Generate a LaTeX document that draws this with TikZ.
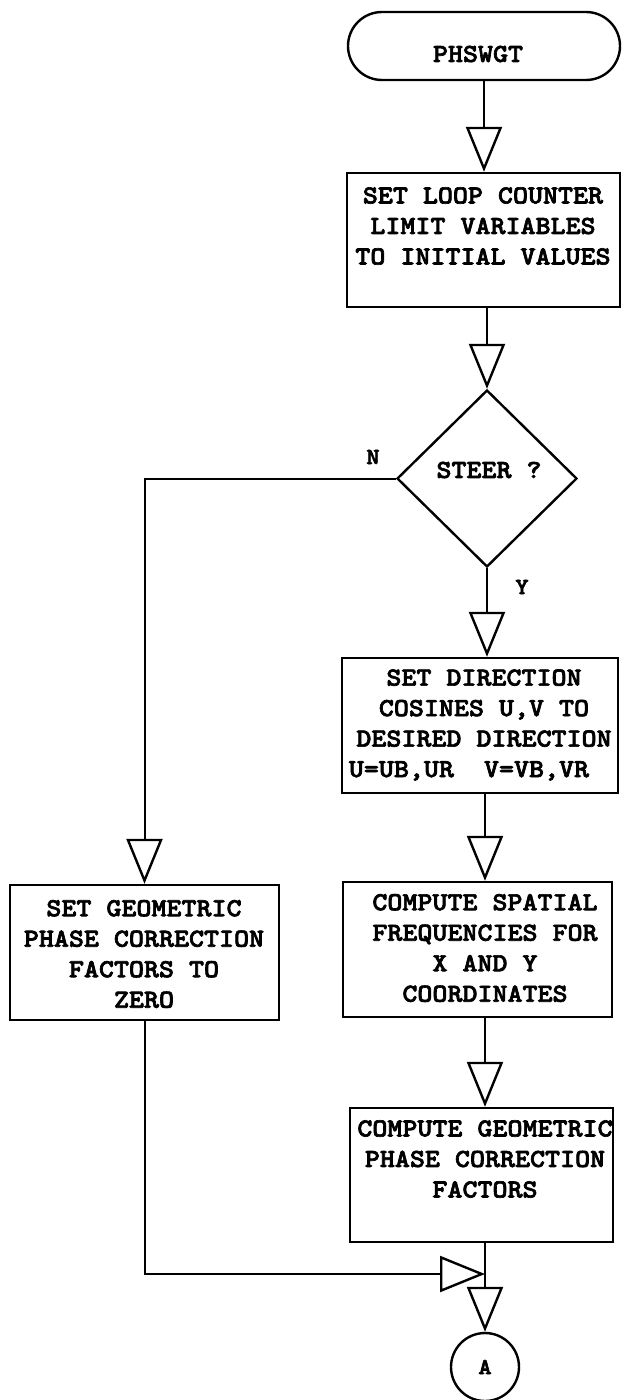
\documentclass[tikz,border=0pt]{standalone}
\usepackage{fontspec}
\newfontfamily\typew{lmmonolt10-bold}[Extension=.otf, FakeStretch=1.1, FakeBold=2.5]
\usetikzlibrary{arrows.meta,shapes.geometric,shapes.misc}
\begin{document}
\begin{tikzpicture}[x=1pt,y=-1pt,
  box/.style={draw, line width=2.4pt, rectangle, inner sep=0pt},
  txt/.style={font=\typew\fontsize{26}{30.5}\selectfont, align=center, inner sep=0pt},
  flow/.style={line width=2pt, -{Triangle[open, length=45pt, width=36pt, line width=2.4pt]}},
  lbl/.style={font=\typew\fontsize{23}{26}\selectfont, inner sep=0pt}]
\fill[white] (0,0) rectangle (631,1400);
\useasboundingbox (0,0) rectangle (631,1400);

% nodes
\node[box, rounded rectangle, minimum width=272pt, minimum height=68pt] (start) at (484,46) {};
\node[txt] (tstart) at (478,54) {PHSWGT};

\node[box, minimum width=273pt, minimum height=134pt] (init) at (483.5,240) {};
\node[txt] (tinit) at (483,226) {SET LOOP COUNTER\\LIMIT VARIABLES\\TO INITIAL VALUES};

\node[box, diamond, minimum width=180pt, minimum height=177pt] (steer) at (487,478.5) {};
\node[txt] (tsteer) at (489,470) {STEER ?};

\node[box, minimum width=276pt, minimum height=135pt] (dir) at (480,725.5) {};
\node[txt] (tdir) at (484,725) {SET DIRECTION\\COSINES U,V TO\\DESIRED DIRECTION\\U=UB,UR~~V=VB,VR\hspace*{30pt}};

\node[box, minimum width=269pt, minimum height=135pt] (spat) at (477.5,949.5) {};
\node[txt] (tspat) at (485,948) {COMPUTE SPATIAL\\FREQUENCIES FOR\\X AND Y\\COORDINATES};

\node[box, minimum width=263pt, minimum height=134pt] (geom) at (481.5,1175) {};
\node[txt] (tgeom) at (485,1159) {COMPUTE GEOMETRIC\\PHASE CORRECTION\\FACTORS};

\node[box, minimum width=269pt, minimum height=135pt] (zero) at (144.5,952.5) {};
\node[txt] (tzero) at (144,954) {SET GEOMETRIC\\PHASE CORRECTION\\FACTORS TO\\ZERO};

\node[box, circle, minimum size=68pt, font=\typew\fontsize{23}{26}\selectfont] (conA) at (485,1367) {A};

\node[lbl] (lN) at (373,457) {N};
\node[lbl] (lY) at (522,587) {Y};

\coordinate (join) at (485,1274);

% connectors
\draw[flow] (start.south) -- (start.south |- init.north);
\draw[flow] (init.south -| steer.north) -- (steer.north);
\draw[flow] (steer.south) -- (steer.south |- dir.north);
\draw[flow] (dir.south -| 485,0) -- (485,0 |- spat.north);
\draw[flow] (spat.south -| 485,0) -- (485,0 |- geom.north);
\draw[flow] (geom.south -| join) -- (conA.north);
\draw[flow] (steer.west) -| (zero.north);
\draw[flow] (zero.south) |- (join);
\end{tikzpicture}
\end{document}
